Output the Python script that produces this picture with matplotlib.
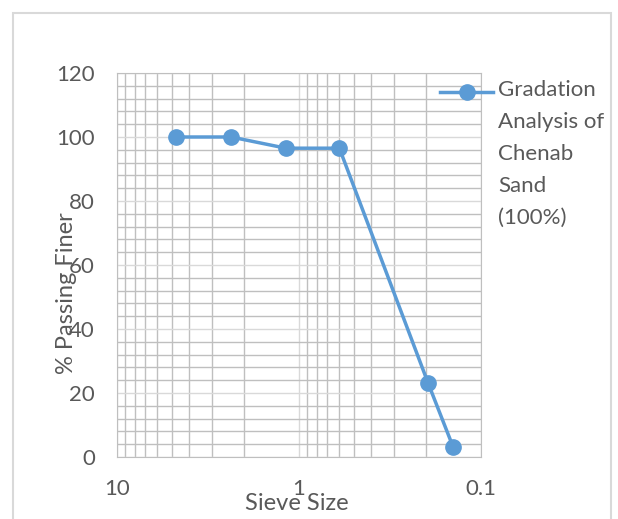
import numpy as np
import matplotlib.pyplot as plt
from matplotlib.ticker import LogLocator, MultipleLocator, FixedFormatter, FixedLocator
from matplotlib.patches import Rectangle

plt.rcParams['font.family'] = ['Lato', 'DejaVu Sans']

sieve_size = [4.75, 2.36, 1.18, 0.6, 0.195, 0.142]
passing = [100, 100, 96.5, 96.5, 23, 3]
series_name = 'Gradation\nAnalysis of\nChenab\nSand\n(100%)'

def main():
  fig = plt.figure(figsize=(6.18, 5.19), dpi=100)
  ax = fig.add_axes([117/618, (519-457)/519, (481-117)/618, (457-73)/519])

  txt = '#595959'
  blue = '#5b9bd5'

  ax.set_xscale('log')
  ax.set_xlim(10, 0.1)
  ax.set_ylim(0, 120)

  ax.xaxis.set_major_locator(FixedLocator([10, 1, 0.1]))
  ax.xaxis.set_major_formatter(FixedFormatter(['10', '1', '0.1']))
  ax.xaxis.set_minor_locator(LogLocator(base=10, subs=np.arange(2, 10)))
  ax.xaxis.set_minor_formatter(plt.NullFormatter())
  ax.yaxis.set_major_locator(MultipleLocator(20))
  ax.yaxis.set_minor_locator(MultipleLocator(4))

  ax.grid(which='major', color='#d9d9d9', lw=1)
  ax.grid(which='minor', color='#bfbfbf', lw=1)
  ax.set_axisbelow(True)
  for s in ax.spines.values():
    s.set_color('#bfbfbf')
  ax.tick_params(which='both', length=0, colors=txt, labelsize=16)
  ax.tick_params(axis='y', pad=16)
  ax.tick_params(axis='x', pad=16)

  ax.plot(sieve_size, passing, color=blue, lw=2.5, marker='o',
          markersize=11, clip_on=False)

  ax.set_xlabel('Sieve Size', color=txt, fontsize=17)
  ax.xaxis.set_label_coords(0.495, -0.094)
  ax.set_ylabel('% Passing Finer', color=txt, fontsize=17)
  ax.yaxis.set_label_coords(-0.11, 0.427)

  # legend
  fig.lines.append(plt.Line2D([440/618, 493/618], [1-92/519, 1-92/519],
                              color=blue, lw=2.5, transform=fig.transFigure))
  fig.lines.append(plt.Line2D([467/618], [1-92/519], color=blue, marker='o',
                              markersize=11, transform=fig.transFigure))
  fig.text(498/618, 1-80/519, series_name, color=txt, fontsize=16,
           va='top', ha='left', linespacing=1.75)

  # chart area border
  fig.patches.append(Rectangle((13/618, -0.05), (611-13)/618, 1.05-13/519,
                               transform=fig.transFigure, fill=False,
                               edgecolor='#d9d9d9', lw=1.5))

  fig.savefig('out.png')

if __name__ == "__main__":
  main()
